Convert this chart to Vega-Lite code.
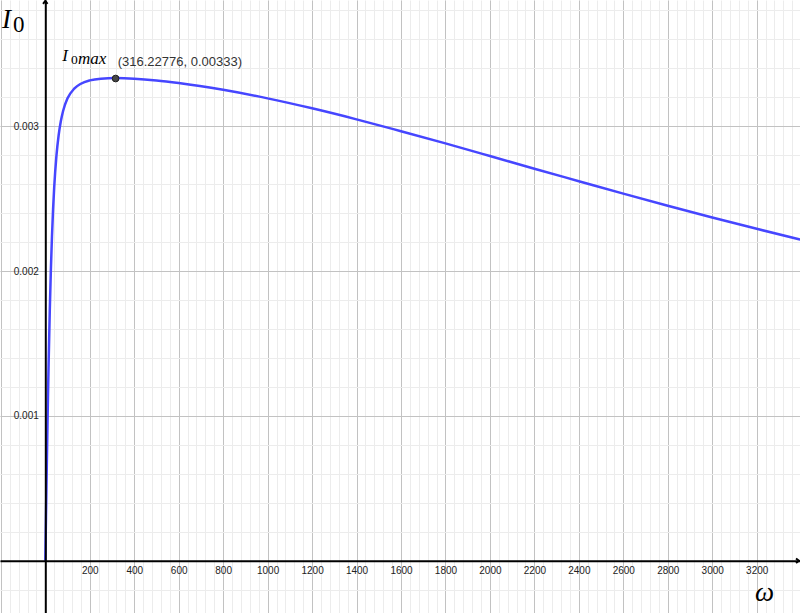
{
  "$schema": "https://vega.github.io/schema/vega-lite/v6.json",
  "width": 800,
  "height": 613,
  "autosize": {"type": "none"},
  "padding": 0,
  "background": "white",
  "config": {"view": {"stroke": null}, "axis": {"gridOpacity": 1}},
  "datasets": {
    "curve": [
      {"w": 0, "i": 0},
      {"w": 1, "i": 0.0001},
      {"w": 2, "i": 0.0001996},
      {"w": 3, "i": 0.000299},
      {"w": 5, "i": 0.000495},
      {"w": 7, "i": 0.000685},
      {"w": 10, "i": 0.000959},
      {"w": 12, "i": 0.001131},
      {"w": 15, "i": 0.00137},
      {"w": 20, "i": 0.00172},
      {"w": 25, "i": 0.002008},
      {"w": 30, "i": 0.002241},
      {"w": 35, "i": 0.002428},
      {"w": 40, "i": 0.002578},
      {"w": 50, "i": 0.002795},
      {"w": 60, "i": 0.002938},
      {"w": 70, "i": 0.003036},
      {"w": 80, "i": 0.003106},
      {"w": 100, "i": 0.003193},
      {"w": 130, "i": 0.00326},
      {"w": 160, "i": 0.003294},
      {"w": 200, "i": 0.003317},
      {"w": 250, "i": 0.003329},
      {"w": 316.23, "i": 0.003333},
      {"w": 400, "i": 0.003329},
      {"w": 500, "i": 0.003317},
      {"w": 600, "i": 0.003299},
      {"w": 800, "i": 0.003252},
      {"w": 1000, "i": 0.003193},
      {"w": 1200, "i": 0.003124},
      {"w": 1400, "i": 0.003048},
      {"w": 1600, "i": 0.002966},
      {"w": 1800, "i": 0.002882},
      {"w": 2000, "i": 0.002795},
      {"w": 2200, "i": 0.002707},
      {"w": 2400, "i": 0.002621},
      {"w": 2600, "i": 0.002535},
      {"w": 2800, "i": 0.002451},
      {"w": 3000, "i": 0.00237},
      {"w": 3200, "i": 0.002292},
      {"w": 3400, "i": 0.002216}
    ],
    "peak": [{"w": 316.22776, "i": 0.00333}]
  },
  "layer": [
    {
      "data": {"name": "curve"},
      "mark": {"type": "line", "color": "#4646ff", "strokeWidth": 2.5, "interpolate": "monotone"},
      "encoding": {
        "x": {"field": "w", "type": "quantitative", "scale": {"domain": [-203.8, 3394.8], "nice": false, "zero": false},
          "axis": {"orient": "bottom", "title": null, "labels": false, "ticks": false, "domain": false, "grid": true, "gridColor": "#ececec", "gridWidth": 1, "zindex": 0,
            "values": [-200,-160,-120,-80,-40,0,40,80,120,160,200,240,280,320,360,400,440,480,520,560,600,640,680,720,760,800,840,880,920,960,1000,1040,1080,1120,1160,1200,1240,1280,1320,1360,1400,1440,1480,1520,1560,1600,1640,1680,1720,1760,1800,1840,1880,1920,1960,2000,2040,2080,2120,2160,2200,2240,2280,2320,2360,2400,2440,2480,2520,2560,2600,2640,2680,2720,2760,2800,2840,2880,2920,2960,3000,3040,3080,3120,3160,3200,3240,3280,3320,3360,3400]}},
        "y": {"field": "i", "type": "quantitative", "scale": {"domain": [-0.0003612, 0.0038722], "nice": false, "zero": false},
          "axis": {"orient": "left", "title": null, "labels": false, "ticks": false, "domain": false, "grid": true, "gridColor": "#ececec", "gridWidth": 1, "zindex": 0,
            "values": [-0.0002,0,0.0002,0.0004,0.0006,0.0008,0.001,0.0012,0.0014,0.0016,0.0018,0.002,0.0022,0.0024,0.0026,0.0028,0.003,0.0032,0.0034,0.0036,0.0038]}}
      }
    },
    {
      "data": {"name": "peak"},
      "mark": {"type": "point", "filled": true, "fill": "#454545", "stroke": "#1e1e1e", "strokeWidth": 1, "size": 45, "opacity": 1},
      "encoding": {
        "x": {"field": "w", "type": "quantitative", "scale": {"domain": [-203.8, 3394.8], "nice": false, "zero": false},
          "axis": {"orient": "bottom", "title": null, "labels": false, "ticks": false, "domain": false, "grid": true, "gridColor": "#c2c2c2", "gridWidth": 1, "zindex": 0,
            "values": [-200,0,200,400,600,800,1000,1200,1400,1600,1800,2000,2200,2400,2600,2800,3000,3200,3400]}},
        "y": {"field": "i", "type": "quantitative", "scale": {"domain": [-0.0003612, 0.0038722], "nice": false, "zero": false},
          "axis": {"orient": "left", "title": null, "labels": false, "ticks": false, "domain": false, "grid": true, "gridColor": "#c2c2c2", "gridWidth": 1, "zindex": 0,
            "values": [0, 0.001, 0.002, 0.003]}}
      }
    },
    {
      "data": {"values": [{"w": 325.7, "i": 0.003416, "t": "(316.22776, 0.00333)"}]},
      "mark": {"type": "text", "align": "left", "baseline": "alphabetic", "font": "Liberation Sans", "fontSize": 13, "color": "#333333"},
      "encoding": {
        "x": {"field": "w", "type": "quantitative", "scale": {"domain": [-203.8, 3394.8], "nice": false, "zero": false},
          "axis": {"orient": "bottom", "offset": -52.3, "title": null, "grid": false, "ticks": false, "domain": true, "domainColor": "#000000", "domainWidth": 2, "labelFont": "Liberation Sans", "labelFontSize": 10, "labelColor": "#222222", "labelPadding": 5, "format": "d", "zindex": 1,
            "values": [200,400,600,800,1000,1200,1400,1600,1800,2000,2200,2400,2600,2800,3000,3200]}},
        "y": {"field": "i", "type": "quantitative", "scale": {"domain": [-0.0003612, 0.0038722], "nice": false, "zero": false},
          "axis": {"orient": "left", "offset": -45.3, "title": null, "grid": false, "ticks": false, "domain": true, "domainColor": "#000000", "domainWidth": 2, "labelFont": "Liberation Sans", "labelFontSize": 10, "labelColor": "#222222", "labelPadding": 7, "format": ".3f", "zindex": 1,
            "values": [0.001, 0.002, 0.003]}},
        "text": {"field": "t"}
      }
    },
    {
      "data": {"values": [
        {"w": -195, "i": 0.003677, "t": "I", "s": 27},
        {"w": 3192, "i": -0.000278, "t": "ω", "s": 27},
        {"w": 76.5, "i": 0.003453, "t": "I", "s": 17},
        {"w": 147.5, "i": 0.00343, "t": "max", "s": 17}
      ]},
      "mark": {"type": "text", "align": "left", "baseline": "alphabetic", "font": "Liberation Serif", "fontStyle": "italic", "color": "#000000"},
      "encoding": {
        "x": {"field": "w", "type": "quantitative", "axis": null},
        "y": {"field": "i", "type": "quantitative", "axis": null},
        "size": {"field": "s", "type": "quantitative", "scale": null},
        "text": {"field": "t"}
      }
    },
    {
      "data": {"values": [
        {"w": -145.3, "i": 0.003649, "t": "0", "s": 23},
        {"w": 116, "i": 0.00343, "t": "0", "s": 13.5}
      ]},
      "mark": {"type": "text", "align": "left", "baseline": "alphabetic", "font": "Liberation Serif", "color": "#000000"},
      "encoding": {
        "x": {"field": "w", "type": "quantitative", "axis": null},
        "y": {"field": "i", "type": "quantitative", "axis": null},
        "size": {"field": "s", "type": "quantitative", "scale": null},
        "text": {"field": "t"}
      }
    },
    {
      "data": {"values": [{"w": 3390, "i": 0}]},
      "mark": {"type": "point", "shape": "M-1.3,-1L0,0L-1.3,1", "filled": false, "stroke": "#000000", "strokeWidth": 2, "size": 20, "opacity": 1},
      "encoding": {
        "x": {"field": "w", "type": "quantitative", "axis": null},
        "y": {"field": "i", "type": "quantitative", "axis": null}
      }
    },
    {
      "data": {"values": [{"w": 0, "i": 0.003866}]},
      "mark": {"type": "point", "shape": "M-1,1.3L0,0L1,1.3", "filled": false, "stroke": "#000000", "strokeWidth": 2, "size": 20, "opacity": 1},
      "encoding": {
        "x": {"field": "w", "type": "quantitative", "axis": null},
        "y": {"field": "i", "type": "quantitative", "axis": null}
      }
    }
  ],
  "resolve": {"axis": {"x": "independent", "y": "independent"}}
}
